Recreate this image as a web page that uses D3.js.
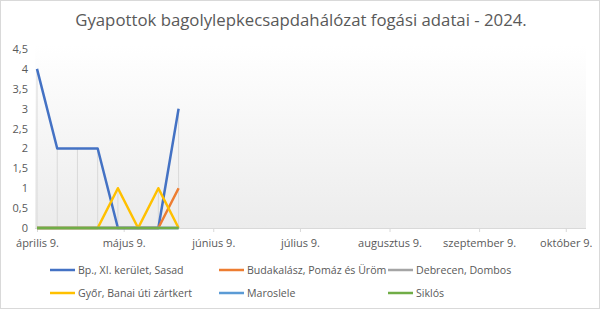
<!DOCTYPE html>
<html><head><meta charset="utf-8">
<script src="https://cdn.jsdelivr.net/npm/d3@7/dist/d3.min.js"></script>
<style>
html,body{margin:0;padding:0;background:#fff;}
svg{display:block;font-family:"Open Sans",sans-serif;}
</style></head>
<body>
<svg id="c" width="600" height="309"></svg>
<script>
const title = "Gyapottok bagolylepkecsapdahálózat fogási adatai - 2024.";
const dates = ["2024-04-09","2024-04-16","2024-04-23","2024-04-30","2024-05-07","2024-05-14","2024-05-21","2024-05-28"];
const seriesNames = ["Bp., XI. kerület, Sasad","Budakalász, Pomáz és Üröm","Debrecen, Dombos","Győr, Banai úti zártkert","Maroslele","Siklós"];
const seriesColors = ["#4472C4","#ED7D31","#A5A5A5","#FFC000","#5B9BD5","#70AD47"];
const bpValues = [4,2,2,2,0,0,0,3];
const budakalaszValues = [0,0,0,0,0,0,0,1];
const debrecenValues = [0,0,0,0,0,0,0,0];
const gyorValues = [0,0,0,0,1,0,1,0];
const maroslelValues = [0,0,0,0,0,0,0,0];
const siklosValues = [0,0,0,0,0,0,0,0];
const xTickDates = ["2024-04-09","2024-05-09","2024-06-09","2024-07-09","2024-08-09","2024-09-09","2024-10-09"];
const xTickLabels = ["április 9.","május 9.","június 9.","július 9.","augusztus 9.","szeptember 9.","október 9."];
const yTicks = [0,0.5,1,1.5,2,2.5,3,3.5,4,4.5];

const allValues = [bpValues,budakalaszValues,debrecenValues,gyorValues,maroslelValues,siklosValues];
const parse = d3.timeParse("%Y-%m-%d");
const svg = d3.select("#c");
const W = 600, H = 309;
const textColor = "#595959";

svg.append("rect").attr("x",0.5).attr("y",0.5).attr("width",W-1).attr("height",H-1)
  .attr("fill","#fff").attr("stroke","#d9d9d9");

const x = d3.scaleTime().domain([parse("2024-04-09"), parse("2024-10-16")]).range([37, 586]);
const y = d3.scaleLinear().domain([0,4.5]).range([228, 49]);

// plot background gradient
const defs = svg.append("defs");
const grad = defs.append("linearGradient").attr("id","bg").attr("x1",0).attr("y1",0).attr("x2",0).attr("y2",1);
grad.append("stop").attr("offset","0%").attr("stop-color","#ffffff");
grad.append("stop").attr("offset","100%").attr("stop-color","#ececec");
svg.append("rect").attr("x",35).attr("y",y(4.5)-4).attr("width",586-35).attr("height",228-(y(4.5)-4))
  .attr("fill","url(#bg)");

// title
const t = svg.append("text").attr("x",301).attr("y",26).attr("text-anchor","middle")
  .attr("fill",textColor).style("font-size","16px").text(title);
const tw = t.node().getComputedTextLength();
t.style("font-size",(16*452/tw)+"px");

// y axis labels
const yAxis = d3.axisLeft(y).tickValues(yTicks).tickSize(0).tickPadding(0)
  .tickFormat(d => d3.format("")(d).replace(".",","));
const yg = svg.append("g").attr("transform","translate(28,0)").call(yAxis);
yg.select(".domain").remove();
yg.selectAll("text").attr("fill",textColor).style("font-size","11px").style("font-family","Open Sans, sans-serif");

// x axis
const xAxis = d3.axisBottom(x).tickValues(xTickDates.map(parse)).tickSize(4).tickPadding(7)
  .tickFormat((d,i) => xTickLabels[i]);
const xg = svg.append("g").attr("transform","translate(0,228)").call(xAxis);
xg.select(".domain").attr("stroke","#d9d9d9").attr("d","M35,0.5H586");
xg.selectAll(".tick line").attr("stroke","#d9d9d9");
xg.selectAll("text").attr("fill",textColor).style("font-size","11px").style("font-family","Open Sans, sans-serif");

// drop lines
const pts = dates.map((d,i) => ({date: parse(d), max: d3.max(allValues, s => s[i])}));
svg.append("g").selectAll("line").data(pts.filter(p => p.max > 0)).join("line")
  .attr("x1",p => x(p.date)).attr("x2",p => x(p.date))
  .attr("y1",p => y(p.max)).attr("y2",y(0))
  .attr("stroke","#d9d9d9").attr("stroke-width",1);

// lines
const line = d3.line().x((d,i) => x(parse(dates[i]))).y(d => y(d));
allValues.forEach((vals,k) => {
  svg.append("path").attr("d", line(vals)).attr("fill","none")
    .attr("stroke", seriesColors[k]).attr("stroke-width",2.5).attr("stroke-linejoin","round");
});

// legend
const legX = [50, 219, 388];
const legY = [270, 293];
seriesNames.forEach((name,k) => {
  const cx = legX[k%3], cy = legY[Math.floor(k/3)];
  svg.append("line").attr("x1",cx).attr("x2",cx+25).attr("y1",cy).attr("y2",cy)
    .attr("stroke",seriesColors[k]).attr("stroke-width",2.5);
  svg.append("text").attr("x",cx+28).attr("y",cy+4).attr("fill",textColor)
    .style("font-size","10.6px").text(name);
});
</script>
</body></html>
